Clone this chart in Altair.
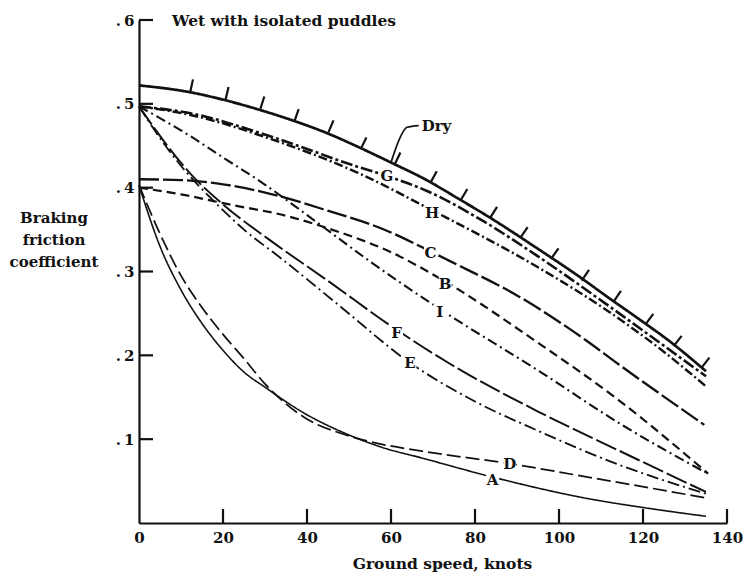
import altair as alt
import pandas as pd
import numpy as np

# Braking friction coefficient against ground speed, wet runway with isolated puddles

dry_speed = [0, 12, 20, 28.6, 36.7, 44.8, 52, 60, 68.5, 76, 83, 95, 104.5, 112, 119.4, 126.8, 135]
dry_mu = [.522, .514, .505, .493, .480, .465, .449, .430, .409, .387, .366, .327, .295, .268, .242, .215, .181]

g_speed = [0, 12, 32, 52, 59, 68.6, 82, 95, 111, 124, 135]
g_mu = [.497, .489, .460, .425, .414, .396, .360, .318, .262, .215, .175]

h_speed = [0, 12, 32, 52, 69.8, 95, 111, 124, 135]
h_mu = [.497, .487, .457, .418, .373, .305, .255, .208, .163]

c_speed = [0, 10, 20, 31, 45.3, 57.9, 69.4, 73.8, 90.5, 106.4, 114, 134.6]
c_mu = [.410, .409, .404, .393, .372, .351, .324, .313, .270, .218, .190, .117]

b_speed = [0, 10, 21.5, 35.4, 45.3, 60, 72.9, 95, 114.1, 135.5]
b_mu = [.400, .392, .380, .366, .351, .323, .288, .215, .147, .059]

i_speed = [0, 13, 20, 29, 42, 55, 72, 95, 115, 135]
i_mu = [.497, .459, .436, .407, .360, .312, .254, .182, .117, .060]

f_speed = [0, 6, 12, 20, 31, 45.5, 60, 74, 95, 114, 135]
f_mu = [.497, .455, .418, .380, .338, .287, .235, .190, .133, .087, .037]

e_speed = [0, 6, 11, 17, 25, 34, 48, 64, 80, 95, 114, 135]
e_mu = [.497, .452, .420, .388, .350, .315, .258, .193, .145, .110, .070, .035]

d_speed = [0, 5, 10, 15, 20, 25, 30, 40, 48, 55, 67, 88, 110, 135]
d_mu = [.403, .345, .295, .257, .225, .196, .166, .124, .107, .097, .086, .071, .052, .030]

a_speed = [0, 5, 10, 15, 20, 25, 30, 39, 50, 58, 67, 84, 107, 122, 135]
a_mu = [.403, .330, .278, .238, .206, .180, .162, .132, .105, .090, .078, .055, .029, .017, .008]

# curve letters placed on their lines
label_names = ["G", "H", "C", "B", "I", "F", "E", "D", "A"]
label_speed = [59.0, 69.8, 69.4, 72.9, 71.6, 61.3, 64.5, 88.3, 84.2]
label_mu = [.415, .371, .323, .286, .253, .228, .192, .071, .053]

# hatch marks along the dry curve
hatch_speed = [12.2, 20.6, 28.9, 37.0, 45.1, 52.8, 60.9, 69.4, 76.6, 83.6, 90.8, 98.1,
               105.4, 113.0, 120.6, 127.3, 133.9]
hatch_mu = [.514, .505, .494, .479, .466, .446, .428, .406, .385, .364, .340, .315,
            .289, .264, .237, .211, .185]

# leader from the dry curve to its label
leader_speed = [60.0, 62.0, 63.8, 66.6]
leader_mu = [.430, .458, .472, .474]
dry_label = ["Dry", 67.3, .474]

x_ticks = [0, 20, 40, 60, 80, 100, 120, 140]
y_ticks = [0.1, 0.2, 0.3, 0.4, 0.5, 0.6]

W, H = 588, 503
X_MAX, Y_MAX = 140, 0.6
FONT = "DejaVu Serif"
INK = "#111111"

curves = {
    "Dry": (dry_speed, dry_mu, [1, 0], 2.7),
    "G": (g_speed, g_mu, [12, 3, 3, 3], 1.6),
    "H": (h_speed, h_mu, [9, 3, 2, 3], 1.6),
    "C": (c_speed, c_mu, [20, 4], 1.6),
    "B": (b_speed, b_mu, [9, 5], 1.6),
    "I": (i_speed, i_mu, [10, 4, 2, 4], 1.6),
    "F": (f_speed, f_mu, [22, 4], 1.6),
    "E": (e_speed, e_mu, [12, 4, 2, 4], 1.6),
    "D": (d_speed, d_mu, [14, 5], 1.6),
    "A": (a_speed, a_mu, [1, 0], 1.6),
}

rows = []
for name, (sx, sy, _, _) in curves.items():
    for s, m in zip(sx, sy):
        rows.append({"curve": name, "speed": s, "mu": m})
lines_df = pd.DataFrame(rows)
names = list(curves.keys())
dashes = [curves[n][2] for n in names]
widths = [curves[n][3] for n in names]

xs = alt.Scale(domain=[0, X_MAX], nice=False, zero=False)
ys = alt.Scale(domain=[0, Y_MAX], nice=False, zero=False)

x_axis = alt.Axis(values=x_ticks, ticks=False, grid=False, domainColor=INK, domainWidth=2.2,
                  labelFont=FONT, labelFontSize=15, labelFontWeight="bold", labelColor=INK,
                  labelPadding=7, labelFlush=False, title="Ground speed, knots",
                  titleFont=FONT, titleFontSize=15.5, titleFontWeight="bold", titleColor=INK,
                  titlePadding=11, titleX=303)
y_axis = alt.Axis(values=y_ticks, ticks=False, grid=False, domainColor=INK, domainWidth=2.2,
                  labelFont=FONT, labelFontSize=15, labelFontWeight="bold", labelColor=INK,
                  labelPadding=5, labelFlush=False,
                  labelExpr="'.\u2009' + format(datum.value * 10, '.0f')", title="")


def X(field="speed"):
    return alt.X(f"{field}:Q", scale=xs, axis=x_axis)


def Y(field="mu"):
    return alt.Y(f"{field}:Q", scale=ys, axis=y_axis)


base = alt.Chart(lines_df)
curves_layer = base.mark_line(interpolate="monotone", color=INK).encode(
    x=X(), y=Y(),
    detail="curve:N",
    strokeDash=alt.StrokeDash("curve:N", scale=alt.Scale(domain=names, range=dashes), legend=None),
    strokeWidth=alt.StrokeWidth("curve:N", scale=alt.Scale(domain=names, range=widths), legend=None),
)

# hatch marks drawn perpendicular to the dry curve
hx = np.array(hatch_speed)
hy = np.array(hatch_mu)
px = hx * W / X_MAX
py = -hy * H / Y_MAX
slope = np.gradient(py, px)
norm = np.sqrt(1 + slope ** 2)
L = 13.0
hatch_df = pd.DataFrame({
    "speed": hx, "mu": hy,
    "speed2": hx + L * slope / norm / (W / X_MAX),
    "mu2": hy + L / norm / (H / Y_MAX),
})
hatch_layer = alt.Chart(hatch_df).mark_rule(color=INK, strokeWidth=2.2).encode(
    x=X(), y=Y(), x2="speed2:Q", y2="mu2:Q",
)

leader_df = pd.DataFrame({"speed": leader_speed, "mu": leader_mu})
leader_layer = alt.Chart(leader_df).mark_line(color=INK, strokeWidth=1.7, interpolate="monotone").encode(
    x=X(), y=Y(),
)

lab_df = pd.DataFrame({"name": label_names, "speed": label_speed, "mu": label_mu})
lab_bg = alt.Chart(lab_df).mark_square(filled=True, color="white", opacity=1, size=170).encode(
    x=X(), y=Y(),
)
lab_text = alt.Chart(lab_df).mark_text(font=FONT, fontSize=15, fontWeight="bold", color=INK,
                                       baseline="middle", dy=1).encode(
    x=X(), y=Y(), text="name:N",
)

dry_df = pd.DataFrame({"name": [dry_label[0]], "speed": [dry_label[1]], "mu": [dry_label[2]]})
dry_text = alt.Chart(dry_df).mark_text(font=FONT, fontSize=15, fontWeight="bold", color=INK,
                                       align="left", baseline="middle").encode(
    x=X(), y=Y(), text="name:N",
)

# inward tick marks on both axes
yt_df = pd.DataFrame({"mu": y_ticks})
ytick_layer = alt.Chart(yt_df).mark_rule(color=INK, strokeWidth=2.2).encode(
    y=Y(), x=alt.value(0), x2=alt.value(14),
)
xt_df = pd.DataFrame({"speed": x_ticks[1:]})
xtick_layer = alt.Chart(xt_df).mark_rule(color=INK, strokeWidth=2.2).encode(
    x=X(), y=alt.value(H), y2=alt.value(H - 14),
)

title_df = pd.DataFrame({"t": ["Wet with isolated puddles"]})
title_layer = alt.Chart(title_df).mark_text(font=FONT, fontSize=15.5, fontWeight="bold", color=INK,
                                            align="left", baseline="middle").encode(
    text="t:N", x=alt.value(33), y=alt.value(1),
)

ytitle_df = pd.DataFrame({"t": ["Braking\nfriction\ncoefficient"]})
ytitle_layer = alt.Chart(ytitle_df).mark_text(font=FONT, fontSize=15, fontWeight="bold", color=INK,
                                              align="center", baseline="top", lineBreak="\n",
                                              lineHeight=22).encode(
    text="t:N", x=alt.value(-85), y=alt.value(191),
)

chart = alt.layer(
    curves_layer, lab_bg, hatch_layer, leader_layer, lab_text, dry_text,
    ytick_layer, xtick_layer, title_layer, ytitle_layer,
).properties(
    width=W, height=H,
    autosize=alt.AutoSizeParams(type="none"),
    padding={"left": 139, "top": 20, "right": 17, "bottom": 54},
    background="white",
).configure_view(stroke=None)

chart.save("out.html", embed_options={"renderer": "svg", "actions": False})
